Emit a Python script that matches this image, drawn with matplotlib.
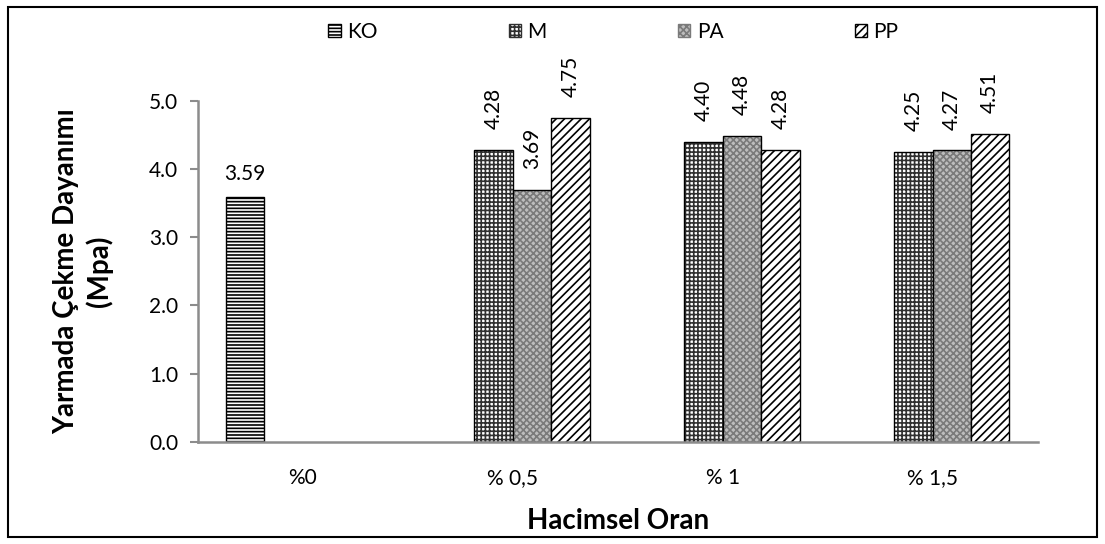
import numpy as np
import matplotlib.pyplot as plt
from matplotlib.patches import Patch, Rectangle

# =====================================
# Data
# =====================================
categories = ['%0', '% 0,5', '% 1', '% 1,5']
series_names = ['KO', 'M', 'PA', 'PP']

ko_values = [3.59, np.nan, np.nan, np.nan]
m_values = [np.nan, 4.28, 4.40, 4.25]
pa_values = [np.nan, 3.69, 4.48, 4.27]
pp_values = [np.nan, 4.75, 4.28, 4.51]

all_values = [ko_values, m_values, pa_values, pp_values]

# pattern fills (face colour, hatch colour, hatch)
styles = [
    ('white', 'black', '-----'),
    ('white', '#303030', '++++'),
    ('#bdbdbd', '#7a7a7a', 'xxxxx'),
    ('white', 'black', '////'),
]

plt.rcParams['font.family'] = ['Lato', 'DejaVu Sans']
plt.rcParams['hatch.linewidth'] = 1.2

# =====================================
# Plot
# =====================================
fig = plt.figure(figsize=(11.05, 5.44), dpi=100)
ax = fig.add_axes([0.179, 0.188, 0.760, 0.627])

x = np.arange(len(categories))
width = 0.183

for i, (name, vals) in enumerate(zip(series_names, all_values)):
    fc, hc, hatch = styles[i]
    pos = x + (i - 1.5) * width
    ax.bar(pos, vals, width, color=fc, edgecolor=hc, hatch=hatch, linewidth=0)
    ax.bar(pos, vals, width, fill=False, edgecolor='black', linewidth=1.0)

    for j, v in enumerate(vals):
        if np.isnan(v):
            continue
        rot = 0 if j == 0 else 90
        ax.annotate(
            f'{v:.2f}',
            xy=(pos[j], v),
            xytext=(0, 9 if rot == 0 else 15),
            textcoords='offset points',
            ha='center',
            va='bottom',
            rotation=rot,
            fontsize=15
        )

ax.set_xlim(-0.5, len(categories) - 0.5)
ax.set_ylim(0, 5)
ax.set_yticks(np.arange(0, 5.1, 1.0))
ax.set_yticklabels([f'{t:.1f}' for t in np.arange(0, 5.1, 1.0)], fontsize=15)
ax.set_xticks(x)
ax.set_xticklabels(categories, fontsize=15)
ax.tick_params(axis='x', length=0, pad=19)
ax.tick_params(axis='y', length=6, width=1.5, color='#8c8c8c', pad=8)

for side in ['top', 'right']:
    ax.spines[side].set_visible(False)
for side in ['left', 'bottom']:
    ax.spines[side].set_color('#8c8c8c')
    ax.spines[side].set_linewidth(1.8)

ax.set_ylabel('Yarmada Çekme Dayanımı\n(Mpa)', fontsize=20,
              fontweight='bold', labelpad=26, linespacing=1.3)
ax.set_xlabel('Hacimsel Oran', fontsize=20, fontweight='bold', labelpad=14)

# Legend
handles = [
    Patch(facecolor=styles[i][0], edgecolor=styles[i][1], hatch=styles[i][2],
          linewidth=1.0)
    for i in range(len(series_names))
]
fig.legend(
    handles, series_names,
    loc='center',
    bbox_to_anchor=(0.555, 0.941),
    ncol=4,
    frameon=False,
    fontsize=15,
    handlelength=0.6,
    handleheight=0.6,
    handletextpad=0.3,
    columnspacing=6.3
)

# Outer border
fig.add_artist(Rectangle((8 / 1105, 7 / 544), 1089 / 1105, 530 / 544,
                         transform=fig.transFigure, fill=False,
                         edgecolor='black', linewidth=1.5))

fig.savefig('out.png', dpi=100)
